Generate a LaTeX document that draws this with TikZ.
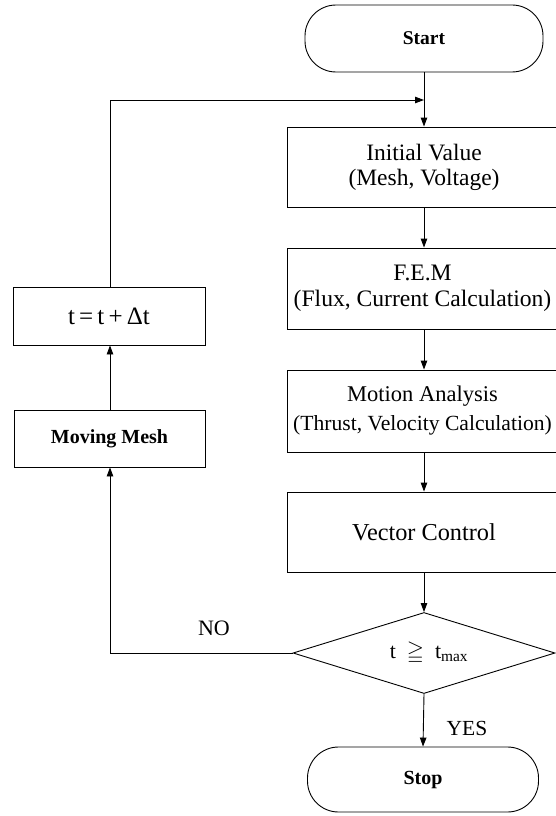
\documentclass[tikz,border=0pt]{standalone}
\usepackage{fontspec}
\setmainfont{Liberation Serif}
\usepackage{amssymb}
\usetikzlibrary{shapes.geometric,arrows.meta}
\begin{document}
\begin{tikzpicture}[x=1pt,y=-1pt,
  every node/.style={inner sep=0pt,align=center},
  box/.style={draw,line width=0.9pt,minimum width=274pt,minimum height=80pt},
  lbox/.style={draw,line width=0.9pt,minimum width=192pt,minimum height=58pt},
  term/.style={draw,line width=0.9pt,rounded corners=31pt},
  dec/.style={draw,line width=0.9pt,diamond,minimum width=262pt,minimum height=81pt},
  arr/.style={line width=0.9pt,-{Triangle[length=9pt,width=6.5pt]}},
  ln/.style={line width=0.9pt}]
\useasboundingbox (0,0) rectangle (556,816);

\node[term,minimum width=238pt,minimum height=67pt,font=\bfseries\fontsize{19.5}{22}\selectfont] (start) at (424,38.5) {Start};
\node[box,font=\fontsize{23.5}{25}\selectfont] (init) at (424,167) {Initial Value\\(Mesh, Voltage)};
\node[box,minimum width=271pt,minimum height=81pt,font=\fontsize{23.6}{26}\selectfont] (fem) at (422.5,288.5) {F.E.M\\(Flux, Current Calculation)};
\node[box,minimum width=271pt,minimum height=82pt,font=\fontsize{22.5}{29}\selectfont] (motion) at (422.5,411) {Motion Analysis\\{\fontsize{21.6}{29}\selectfont (Thrust, Velocity Calculation)}};
\node[box,font=\fontsize{24.3}{26}\selectfont] (vec) at (424,532) {Vector Control};
\node[dec] (cond) at (424,653) {};
\node[font=\fontsize{22}{26}\selectfont] (condtext) at (429,653) {t \ $\geqq$\ \ t\textsubscript{max}};
\node[term,minimum width=231pt,minimum height=65pt,font=\bfseries\fontsize{20}{22}\selectfont] (stop) at (423,779.5) {Stop};

\node[lbox,font=\fontsize{25}{28}\selectfont] (tinc) at (109,316) {t\,=\,t\,+\,Δt};
\node[lbox,minimum width=191pt,minimum height=57pt,font=\bfseries\fontsize{20}{24}\selectfont] (mm) at (109.5,438.5) {Moving Mesh};

\node[font=\fontsize{22}{26}\selectfont] (no) at (214,628) {NO};
\node[font=\fontsize{21.5}{26}\selectfont] (yes) at (467,728) {YES};

\coordinate (j) at (424,100);
\coordinate (nl) at (110,653);
\coordinate (tl) at (110,100);

\draw[ln] (start.south) -- (j);
\draw[arr] (j) -- (init.north);
\draw[arr] (init.south) -- (fem.north -| init.south);
\draw[arr] (fem.south -| init.south) -- (motion.north -| init.south);
\draw[arr] (motion.south -| init.south) -- (vec.north);
\draw[arr] (vec.south) -- (cond.north);
\draw[arr] (cond.south) -- (stop.north);
\draw[arr] (cond.west) -- (nl) -- (mm.south -| nl);
\draw[arr] (mm.north -| nl) -- (tinc.south -| nl);
\draw[arr] (tinc.north -| tl) -- (tl) -- (j);
\end{tikzpicture}
\end{document}
